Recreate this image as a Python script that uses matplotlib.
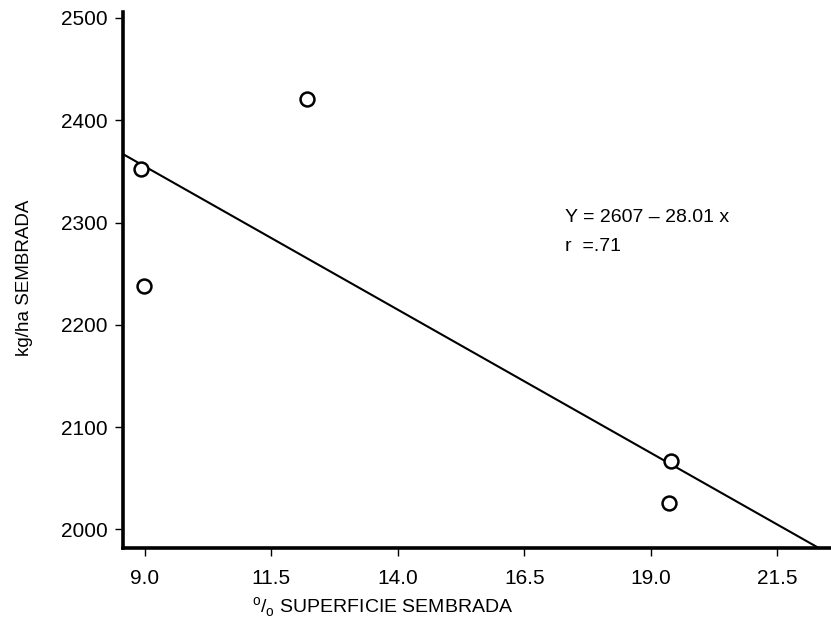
import matplotlib
matplotlib.use("Agg")
import matplotlib.pyplot as plt
import numpy as np

# Data
superficie = [8.92, 8.98, 12.2, 19.4, 19.35]   # % superficie sembrada
rendimiento = [2352, 2238, 2421, 2067, 2026]   # kg/ha sembrada

# Regression reported on the chart
intercept = 2607
slope = -28.01
r_value = ".71"

x_ticks = [9.0, 11.5, 14.0, 16.5, 19.0, 21.5]
x_ticklabels = ["9.0", "11.5", "14.0", "16.5", "19.0", "21.5"]
y_ticks = [2000, 2100, 2200, 2300, 2400, 2500]

plt.rcParams["font.family"] = ["Liberation Sans", "DejaVu Sans"]
plt.rcParams["mathtext.fontset"] = "custom"
plt.rcParams["mathtext.rm"] = "Liberation Sans"

fig = plt.figure(figsize=(8.31, 6.24), dpi=100)
ax = fig.add_axes([0.148, 0.122, 0.852, 0.859])

x0, x1 = 8.57, 22.56
y0, y1 = 1982, 2506
ax.set_xlim(x0, x1)
ax.set_ylim(y0, y1)

# regression line
xs = np.array([x0, (y0 - intercept) / slope])
ax.plot(xs, intercept + slope * xs, color="black", lw=1.5, zorder=2)

# observed points
ax.plot(superficie, rendimiento, "o", ms=10, mfc="white", mec="black",
        mew=1.8, zorder=3)

ax.text(17.3, 2305, "Y = 2607 \u2013 28.01 x", fontsize=14,
        va="center", ha="left")
ax.text(17.3, 2277, "r  =" + r_value, fontsize=14, va="center", ha="left")

for side in ["top", "right"]:
    ax.spines[side].set_visible(False)
for side in ["left", "bottom"]:
    ax.spines[side].set_linewidth(2.6)

ax.set_xticks(x_ticks)
ax.set_xticklabels(x_ticklabels)
ax.set_yticks(y_ticks)
ax.tick_params(axis="both", direction="out", length=6, width=1,
               labelsize=15)
ax.tick_params(axis="x", pad=9)
ax.tick_params(axis="y", pad=5)

fig.text(0.461, 0.0175, r"$^{\mathrm{o}}$/$_{\mathrm{o}}$ SUPERFICIE SEMBRADA",
         fontsize=14, ha="center", va="baseline")
fig.text(0.029, 0.555, "kg/ha SEMBRADA", fontsize=13.5, rotation=90,
         ha="center", va="center")

fig.savefig("out.png", dpi=100)
